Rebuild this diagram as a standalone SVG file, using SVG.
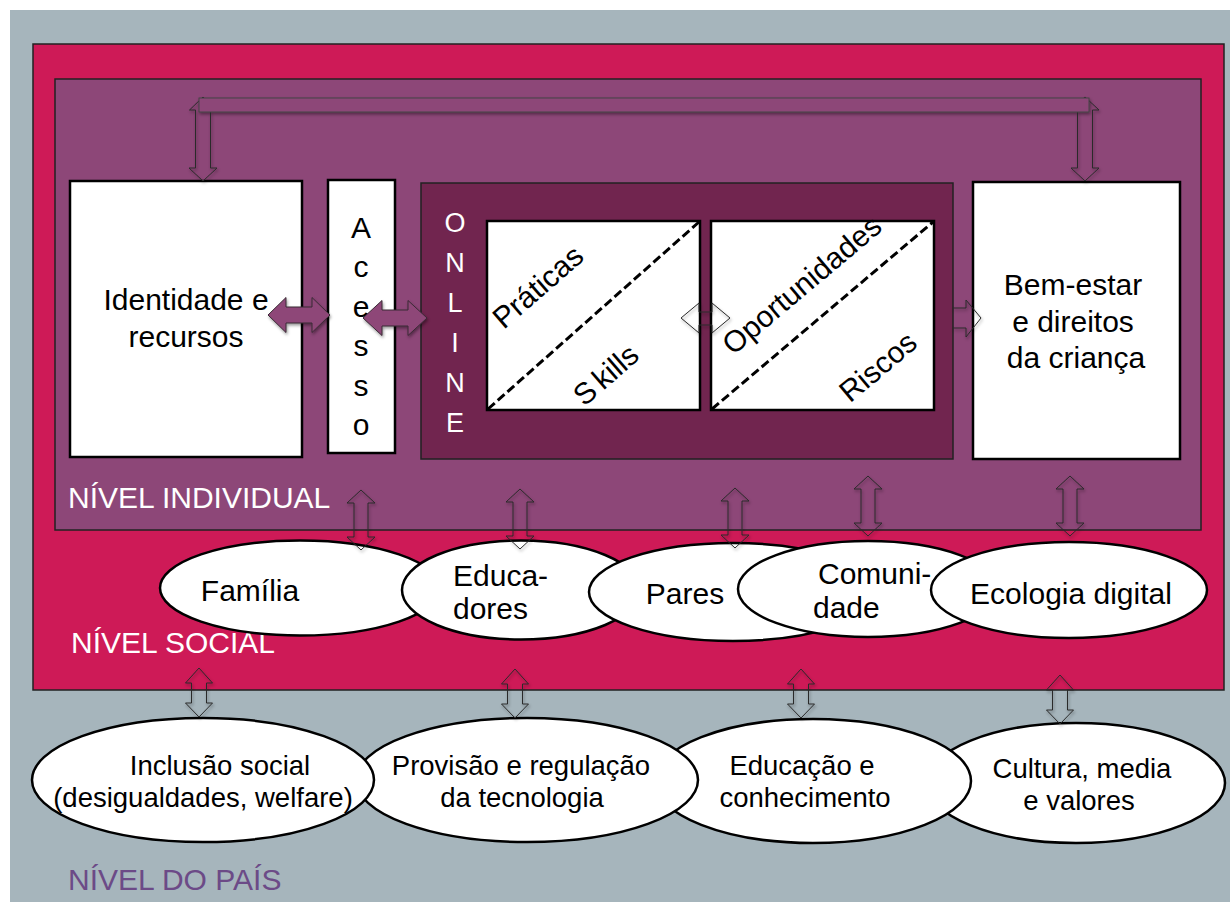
<svg xmlns="http://www.w3.org/2000/svg" width="1230" height="902" viewBox="0 0 1230 902">
<style>
.t{font-family:"Liberation Sans",Arial,sans-serif;fill:#000}
.box{fill:#fff;stroke:#000;stroke-width:2.5}
.ell{fill:#fff;stroke:#000;stroke-width:2.5}
.arr{fill:none;stroke:#2a2a2a;stroke-width:1}
.arrp{fill:#8E4778;stroke:#3a2a35;stroke-width:1}
.lvl{font-family:"Liberation Sans",Arial,sans-serif;font-size:30px}
.dash{stroke:#000;stroke-width:3;stroke-dasharray:9 4;fill:none}
</style>
<defs>
<filter id="sh" x="-30%" y="-30%" width="160%" height="160%">
<feDropShadow dx="1" dy="2" stdDeviation="1.5" flood-color="#000" flood-opacity="0.4"/>
</filter>
<path id="va60" d="M0,0 L14,13 L7,13 L7,47 L14,47 L0,60 L-14,47 L-7,47 L-7,13 L-14,13 Z"/>
<path id="va49" d="M0,0 L13.5,15 L7.5,15 L7.5,35 L13.5,35 L0,49 L-13.5,35 L-7.5,35 L-7.5,15 L-13.5,15 Z"/>
</defs>

<rect x="0" y="0" width="1230" height="902" fill="#fff"/>
<rect x="10" y="10" width="1220" height="892" fill="#A6B5BC"/>

<g id="nivel-social">
<rect x="33" y="44" width="1191" height="646" fill="#CE1A57" stroke="#222" stroke-width="1.5"/>
</g>
<g id="nivel-individual">
<rect x="55" y="79" width="1146" height="451" fill="#8D4778" stroke="#222" stroke-width="1.5"/>
</g>

<g id="identidade">
<rect class="box" x="70" y="181" width="232" height="276"/>
<text class="t" font-size="30" text-anchor="middle"><tspan x="186" y="310">Identidade e</tspan><tspan x="186" y="347">recursos</tspan></text>
</g>

<g id="acesso">
<rect class="box" x="328" y="180" width="67" height="273"/>
<text class="t" font-size="30" text-anchor="middle">
<tspan x="361" y="238">A</tspan><tspan x="361" y="277">c</tspan><tspan x="361" y="317">e</tspan><tspan x="361" y="356">s</tspan><tspan x="361" y="396">s</tspan><tspan x="361" y="435">o</tspan>
</text>
</g>

<g id="online">
<rect x="421" y="183" width="532" height="276" fill="#71254F" stroke="#222" stroke-width="1.5"/>
<text font-family="Liberation Sans,Arial,sans-serif" font-size="27" fill="#fff" text-anchor="middle">
<tspan x="455" y="232">O</tspan><tspan x="455" y="272">N</tspan><tspan x="455" y="312">L</tspan><tspan x="455" y="352">I</tspan><tspan x="455" y="392">N</tspan><tspan x="455" y="432">E</tspan>
</text>
</g>

<g id="praticas-skills">
<rect class="box" x="487" y="221" width="213" height="189"/>
<line class="dash" x1="488" y1="409" x2="699" y2="222"/>
<text class="t" font-size="30" text-anchor="middle" transform="translate(538,287) rotate(-41)" x="0" y="10">Práticas</text>
<text class="t" font-size="30" text-anchor="middle" transform="translate(606,375) rotate(-41)" x="0" y="10">S<tspan dx="5">kills</tspan></text>
</g>

<g id="oportunidades-riscos">
<rect class="box" x="711" y="221" width="223" height="189"/>
<line class="dash" x1="712" y1="409" x2="933" y2="222"/>
<text class="t" font-size="30" text-anchor="middle" transform="translate(802,285) rotate(-40)" x="0" y="10">Oportunidades</text>
<text class="t" font-size="30" text-anchor="middle" transform="translate(878,367) rotate(-40)" x="0" y="10">Riscos</text>
</g>

<g id="bem-estar">
<rect class="box" x="973" y="182" width="207" height="277"/>
<text class="t" font-size="30" text-anchor="middle"><tspan x="1073" y="295">Bem-estar</tspan><tspan x="1073" y="332">e direitos</tspan><tspan x="1076" y="368">da criança</tspan></text>
</g>

<g id="labels">
<text class="lvl" x="68" y="508" fill="#fff">NÍVEL INDIVIDUAL</text>
<text class="lvl" x="71" y="653" fill="#fff">NÍVEL SOCIAL</text>
<text class="lvl" x="68" y="890" fill="#6C4A87">NÍVEL DO PAÍS</text>
</g>

<g id="familia">
<ellipse class="ell" cx="300" cy="588" rx="140" ry="47.5"/>
<text class="t" font-size="30" text-anchor="middle" x="250" y="601">Família</text>
</g>
<g id="educadores">
<ellipse class="ell" cx="521" cy="590" rx="119" ry="49.5"/>
<text class="t" font-size="30"><tspan x="453" y="586">Educa-</tspan><tspan x="453" y="619">dores</tspan></text>
</g>
<g id="pares">
<ellipse class="ell" cx="733" cy="592" rx="144" ry="49"/>
<text class="t" font-size="30" text-anchor="middle" x="685" y="604">Pares</text>
</g>
<g id="comunidade">
<ellipse class="ell" cx="868" cy="589" rx="130" ry="48"/>
<text class="t" font-size="30"><tspan x="818" y="584">Comuni-</tspan><tspan x="813" y="618">dade</tspan></text>
</g>
<g id="ecologia">
<ellipse class="ell" cx="1069" cy="590" rx="138" ry="48"/>
<text class="t" font-size="30" text-anchor="middle" x="1071" y="604">Ecologia digital</text>
</g>

<g id="cultura">
<ellipse class="ell" cx="1076" cy="783" rx="149" ry="60"/>
<text class="t" font-size="27.5" text-anchor="middle"><tspan x="1082" y="778">Cultura, media</tspan><tspan x="1079" y="810">e valores</tspan></text>
</g>
<g id="educacao">
<ellipse class="ell" cx="813" cy="781" rx="158" ry="62"/>
<text class="t" font-size="27.5" text-anchor="middle"><tspan x="802" y="775">Educação e</tspan><tspan x="805" y="807">conhecimento</tspan></text>
</g>
<g id="provisao">
<ellipse class="ell" cx="527" cy="780" rx="171" ry="62"/>
<text class="t" font-size="27.5" text-anchor="middle"><tspan x="521" y="775">Provisão e regulação</tspan><tspan x="522" y="807">da tecnologia</tspan></text>
</g>
<g id="inclusao">
<ellipse class="ell" cx="203" cy="780" rx="171" ry="62"/>
<text class="t" font-size="27.5" text-anchor="middle"><tspan x="220" y="775">Inclusão social</tspan><tspan x="203" y="807">(desigualdades, welfare)</tspan></text>
</g>

<g id="connectors" filter="url(#sh)">
<path class="arr" d="M203,97 L216.5,110 L210.5,110 L210.5,168 L217,168 L203,181 L189,168 L195.5,168 L195.5,110 L189.5,110 Z"/>
<path class="arr" d="M1085,97 L1099,110 L1092.5,110 L1092.5,168 L1099,168 L1085,181 L1071,168 L1077.5,168 L1077.5,110 L1071,110 Z"/>
<rect x="199" y="98" width="890" height="14" fill="#8D4778" stroke="#444" stroke-width="1"/>
<path class="arrp" d="M268,315 L286,297.5 L286,307 L312,307 L312,297.5 L330,315 L312,332.5 L312,323 L286,323 L286,332.5 Z"/>
<path class="arrp" d="M363,318 L382,300.5 L382,310 L408,310 L408,300.5 L427,318 L408,335.5 L408,326 L382,326 L382,335.5 Z"/>
<path class="arr" d="M681,318 L699,303 L699,312 L712,312 L712,303 L730,318 L712,333 L712,325 L699,325 L699,333 Z"/>
<path class="arr" d="M953,308 L966,308 L966,300 L981,318 L966,337 L966,328 L953,328"/>
<use href="#va60" class="arr" transform="translate(361,490)"/>
<use href="#va60" class="arr" transform="translate(520,489)"/>
<use href="#va60" class="arr" transform="translate(735,488)"/>
<use href="#va60" class="arr" transform="translate(868,476)"/>
<use href="#va60" class="arr" transform="translate(1070,476)"/>
<use href="#va49" class="arr" transform="translate(199,668)"/>
<use href="#va49" class="arr" transform="translate(515,669)"/>
<use href="#va49" class="arr" transform="translate(801,669)"/>
<use href="#va49" class="arr" transform="translate(1060,675)"/>
</g>
</svg>
